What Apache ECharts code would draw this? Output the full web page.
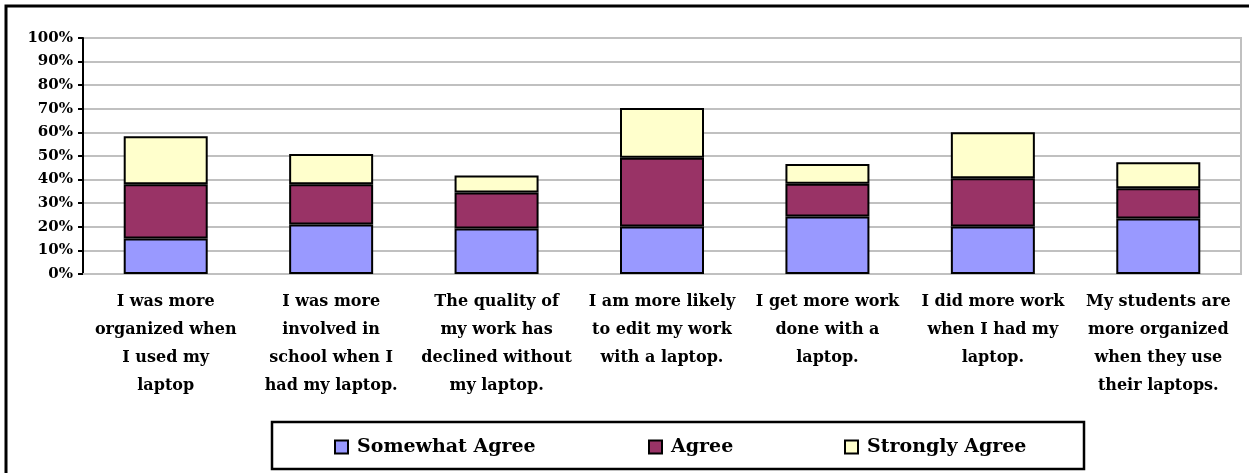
<!DOCTYPE html>
<html>
<head>
<meta charset="utf-8">
<script src="https://cdn.jsdelivr.net/npm/echarts@6/dist/echarts.min.js"></script>
<style>
html,body{margin:0;padding:0;background:#fff;}
#chart{width:1249px;height:473px;}
</style>
</head>
<body>
<div id="chart"></div>
<script>
var categories = [
  "I was more\norganized when\nI used my\nlaptop",
  "I was more\ninvolved in\nschool when I\nhad my laptop.",
  "The quality of\nmy work has\ndeclined without\nmy laptop.",
  "I am more likely\nto edit my work\nwith a laptop.",
  "I get more work\ndone with a\nlaptop.",
  "I did more work\nwhen I had my\nlaptop.",
  "My students are\nmore organized\nwhen they use\ntheir laptops."
];
var seriesNames = ["Somewhat Agree", "Agree", "Strongly Agree"];
var somewhatAgree = [15.0, 21.0, 19.3, 20.1, 24.4, 20.1, 23.5];
var agree = [23.0, 17.0, 15.2, 29.2, 13.8, 20.5, 12.8];
var stronglyAgree = [20.4, 12.8, 7.2, 21.0, 8.4, 19.5, 11.0];
var yTicks = { min: 0, max: 100, interval: 10 };

var colors = ["#9999FF", "#993366", "#FFFFCC"];
var FONT = "DejaVu Serif";

function legendFor(i, left) {
  return {
    data: [seriesNames[i]],
    left: left,
    top: 431,
    orient: "horizontal",
    selectedMode: false,
    icon: "rect",
    itemWidth: 13,
    itemHeight: 13,
    itemStyle: { borderColor: "#000", borderWidth: 2 },
    textStyle: { fontFamily: FONT, fontWeight: "bold", fontSize: 19, color: "#000", lineHeight: 22, padding: [0, 0, 0, 4] }
  };
}

var chart = echarts.init(document.getElementById("chart"), null, { renderer: "canvas" });
var dataArrays = [somewhatAgree, agree, stronglyAgree];
chart.setOption({
  animation: false,
  backgroundColor: "#fff",
  grid: { left: 83, right: 8, top: 38, bottom: 199, containLabel: false, outerBoundsMode: "none",
          show: true, borderColor: "#c0c0c0", borderWidth: 2 },
  legend: [legendFor(0, 329), legendFor(1, 643), legendFor(2, 839)],
  xAxis: {
    type: "category",
    data: categories,
    axisLine: { lineStyle: { color: "#c0c0c0", width: 2 } },
    axisTick: { show: false },
    axisLabel: { interval: 0, margin: 14, fontFamily: FONT, fontWeight: "bold", fontSize: 16, lineHeight: 28, color: "#000", align: "center" }
  },
  yAxis: {
    type: "value",
    min: yTicks.min, max: yTicks.max, interval: yTicks.interval,
    axisLine: { show: true, lineStyle: { color: "#000", width: 2 } },
    axisTick: { show: true, length: 5, lineStyle: { color: "#000", width: 2 } },
    axisLabel: { formatter: "{value}%", margin: 10, fontFamily: FONT, fontWeight: "bold", fontSize: 15, color: "#000" },
    splitLine: { show: true, lineStyle: { color: "#c0c0c0", width: 2 } }
  },
  series: seriesNames.map(function (name, i) {
    return {
      name: name,
      type: "bar",
      stack: "total",
      barWidth: 84,
      data: dataArrays[i],
      itemStyle: { color: colors[i], borderColor: "#000", borderWidth: 2 }
    };
  }),
  graphic: [
    { type: "rect", shape: { x: 6, y: 6, width: 1300, height: 600 }, style: { fill: "none", stroke: "#000", lineWidth: 3 }, silent: true, z: 100 },
    { type: "rect", shape: { x: 272, y: 422, width: 812, height: 47 }, style: { fill: "none", stroke: "#000", lineWidth: 2.5 }, silent: true, z: 100 }
  ]
});
</script>
</body>
</html>
